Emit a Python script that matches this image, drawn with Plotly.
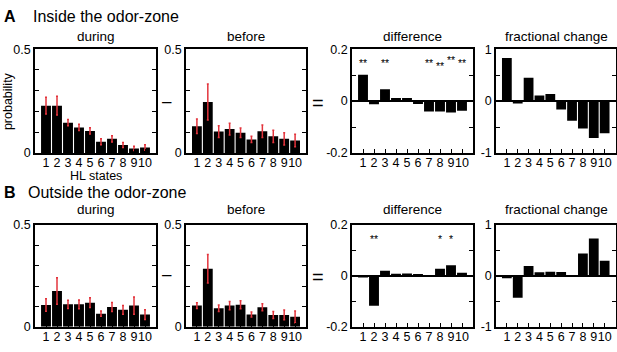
import plotly.graph_objects as go

states = [1, 2, 3, 4, 5, 6, 7, 8, 9, 10]
tick_labels = ["1", "2", "3", "4", "5", "6", "7", "8", "9", "10"]

# Panel A: inside the odor-zone
a_during = [0.228, 0.228, 0.146, 0.123, 0.106, 0.054, 0.068, 0.038, 0.022, 0.026]
a_during_err = [0.040, 0.045, 0.015, 0.015, 0.015, 0.015, 0.015, 0.012, 0.010, 0.013]
a_before = [0.129, 0.246, 0.103, 0.115, 0.097, 0.065, 0.105, 0.080, 0.068, 0.060]
a_before_err = [0.035, 0.087, 0.028, 0.028, 0.023, 0.015, 0.030, 0.030, 0.030, 0.030]
a_diff = [0.102, -0.012, 0.046, 0.012, 0.012, -0.011, -0.040, -0.040, -0.044, -0.037]
a_frac = [0.83, -0.045, 0.45, 0.11, 0.135, -0.16, -0.38, -0.53, -0.71, -0.62]
a_star_x = [1, 3, 7, 8, 9, 10]
a_star_y = [0.147, 0.147, 0.147, 0.137, 0.158, 0.147]
a_star_text = ["**", "**", "**", "**", "**", "**"]

# Panel B: outside the odor-zone
b_during = [0.107, 0.176, 0.110, 0.110, 0.118, 0.064, 0.097, 0.083, 0.104, 0.060]
b_during_err = [0.031, 0.065, 0.020, 0.022, 0.024, 0.013, 0.022, 0.022, 0.042, 0.024]
b_before = [0.104, 0.285, 0.091, 0.104, 0.108, 0.060, 0.096, 0.058, 0.058, 0.049]
b_before_err = [0.014, 0.070, 0.016, 0.020, 0.020, 0.012, 0.017, 0.017, 0.024, 0.029]
b_diff = [-0.006, -0.117, 0.020, 0.008, 0.009, 0.004, -0.002, 0.028, 0.042, 0.012]
b_frac = [-0.045, -0.43, 0.195, 0.07, 0.08, 0.075, -0.005, 0.44, 0.735, 0.295]
b_star_x = [2, 8, 9]
b_star_y = [0.146, 0.146, 0.146]
b_star_text = ["**", "*", "*"]

W, H = 617, 352
FONT = "Liberation Sans, Arial, sans-serif"
RED = "#e3343c"

fig = go.Figure()

def px_x(a, b):
    return [a / W, b / W]

def px_y(top, bottom):
    return [1 - bottom / H, 1 - top / H]

xdoms = [px_x(35, 156), px_x(186, 306), px_x(352, 473), px_x(496, 615.5)]
ydomA = px_y(44, 152)
ydomB = px_y(227, 333)

yranges = [[0, 0.5], [0, 0.5], [-0.2, 0.2], [-1, 1]]
ytickvals = [[0, 0.1, 0.2, 0.3, 0.4, 0.5], [0, 0.1, 0.2, 0.3, 0.4, 0.5],
             [-0.2, -0.1, 0, 0.1, 0.2], [-1, -0.5, 0, 0.5, 1]]
yticktext = [["0", "", "", "", "", "0.5"], ["0", "", "", "", "", "0.5"],
             ["-0.2", "", "0", "", "0.2"], ["-1", "", "0", "", "1"]]

rows = [
    (ydomA, [a_during, a_before, a_diff, a_frac], [a_during_err, a_before_err, None, None]),
    (ydomB, [b_during, b_before, b_diff, b_frac], [b_during_err, b_before_err, None, None]),
]

layout = {}
k = 0
for ri, (ydom, vals, errs) in enumerate(rows):
    for ci in range(4):
        k += 1
        xa = "x" if k == 1 else f"x{k}"
        ya = "y" if k == 1 else f"y{k}"
        tr = dict(x=states, y=vals[ci], xaxis=xa, yaxis=ya, width=0.9,
                  marker=dict(color="black", line=dict(width=0)), showlegend=False,
                  hoverinfo="skip")
        if errs[ci] is not None:
            tr["error_y"] = dict(type="data", array=errs[ci], color=RED, thickness=1.5, width=1)
        fig.add_trace(go.Bar(**tr))
        xname = "xaxis" if k == 1 else f"xaxis{k}"
        yname = "yaxis" if k == 1 else f"yaxis{k}"
        layout[xname] = dict(domain=xdoms[ci], anchor=ya, range=[0, 11], tickvals=states,
                             ticktext=tick_labels, ticks="inside", ticklen=4, tickwidth=1,
                             tickangle=0, ticklabelstandoff=-3,
                             tickcolor="black", showline=True, linecolor="black",
                             linewidth=1.5, mirror=True, showgrid=False, zeroline=False,
                             tickfont=dict(family=FONT, size=12.5, color="black"))
        layout[yname] = dict(domain=ydom, anchor=xa, range=yranges[ci], tickvals=ytickvals[ci],
                             ticktext=yticktext[ci], ticks="inside", ticklen=4, tickwidth=1,
                             tickcolor="black", showline=True, linecolor="black", linewidth=1.5,
                             mirror="ticks", showgrid=False,
                             zeroline=(ci >= 2), zerolinecolor="black", zerolinewidth=1.5,
                             tickfont=dict(family=FONT, size=12.5, color="black"))

annotations = []

def txt(text, x, y, size, bold=False, xanchor="center", yanchor="middle", **kw):
    t = f"<b>{text}</b>" if bold else text
    d = dict(text=t, x=x / W, y=1 - y / H, xref="paper", yref="paper", showarrow=False,
             xanchor=xanchor, yanchor=yanchor, borderpad=0,
             font=dict(family=FONT, size=size, color="black"))
    d.update(kw)
    annotations.append(d)

# section titles
txt("A", 3, 10, 16, bold=True, xanchor="left")
txt("Inside the odor-zone", 32, 10, 16, xanchor="left")
txt("B", 3, 193, 16, bold=True, xanchor="left")
txt("Outside the odor-zone", 27, 193, 16, xanchor="left")

titles = ["during", "before", "difference", "fractional change"]
centers = [95.5, 246, 412.5, 556]
for i, t in enumerate(titles):
    txt(t, centers[i], 31, 13.5)
    txt(t, centers[i], 211, 13.5)

txt("HL states", 95.5, 176.5, 12.5)
txt("probability", 8, 98, 12.5, textangle=-90)

# operators
for yy in (99, 280):
    txt("\u2013", 167, yy - 1, 17)
    txt("=", 318, yy + 1, 20)

# significance stars
for sx, sy, st in zip(a_star_x, a_star_y, a_star_text):
    annotations.append(dict(text=st, x=sx, y=sy, xref="x3", yref="y3", showarrow=False,
                            font=dict(family=FONT, size=10.5, color="black")))
for sx, sy, st in zip(b_star_x, b_star_y, b_star_text):
    annotations.append(dict(text=st, x=sx, y=sy, xref="x7", yref="y7", showarrow=False,
                            font=dict(family=FONT, size=10.5, color="black")))

fig.update_layout(width=W, height=H, margin=dict(l=0, r=0, t=0, b=0),
                  paper_bgcolor="white", plot_bgcolor="white", bargap=0.1,
                  annotations=annotations, font=dict(family=FONT), **layout)

fig.write_html("out.html", config={"displayModeBar": False},
               post_script="document.body.style.margin='0';document.body.style.padding='0';")
